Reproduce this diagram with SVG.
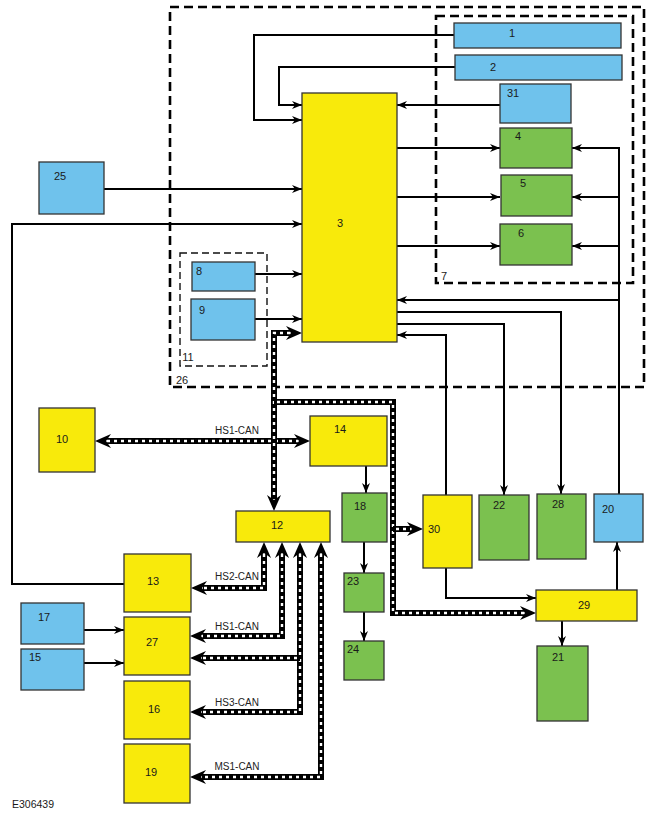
<svg xmlns="http://www.w3.org/2000/svg" width="650" height="819" viewBox="0 0 650 819">
<style>
.b{fill:#6FC2EC;stroke:#333;stroke-width:1.3}
.g{fill:#7BC14F;stroke:#333;stroke-width:1.3}
.y{fill:#F8EA0B;stroke:#333;stroke-width:1.3}
text{font-family:"Liberation Sans",Arial,sans-serif;font-size:11px;fill:#1a1a1a;text-anchor:middle}
.cl{font-size:10px;fill:#222}
.w{fill:none;stroke:#000;stroke-width:2}
.cb{fill:none;stroke:#000;stroke-width:6}
.cw{fill:none;stroke:#fff;stroke-width:2.4;stroke-dasharray:3 4}
.d1{fill:none;stroke:#000;stroke-width:2.6;stroke-dasharray:9 5}
.d2{fill:none;stroke:#111;stroke-width:1.4;stroke-dasharray:7 4}
</style>
<defs>
<marker id="a" markerUnits="userSpaceOnUse" markerWidth="12" markerHeight="10" refX="10" refY="4" orient="auto"><path d="M0,0 L10,4 L0,8 L3,4 z" fill="#000"/></marker>
<marker id="c" markerUnits="userSpaceOnUse" markerWidth="18" markerHeight="16" refX="4" refY="7" orient="auto-start-reverse"><path d="M0,0 L16,7 L0,14 L5,7 z" fill="#000"/></marker>
</defs>
<g id="frames">
<rect class="d1" x="170" y="7" width="474" height="380"/>
<rect class="d1" x="436" y="16" width="197" height="267"/>
<rect class="d2" x="180" y="253" width="87" height="113"/>
<text x="444" y="280">7</text>
<text x="182" y="384">26</text>
<text x="188" y="361">11</text>
</g>
<g id="connectors">
<path class="w" marker-end="url(#a)" d="M454,35 L254,35 L254,120 L302,120"/>
<path class="w" marker-end="url(#a)" d="M455,67 L279,67 L279,105 L302,105"/>
<path class="w" marker-end="url(#a)" d="M500,105 L397,105"/>
<path class="w" marker-end="url(#a)" d="M397,148 L500,148"/>
<path class="w" marker-end="url(#a)" d="M397,197 L500,197"/>
<path class="w" marker-end="url(#a)" d="M397,246 L500,246"/>
<path class="w" marker-end="url(#a)" d="M619,494 L619,148 L572,148"/>
<path class="w" marker-end="url(#a)" d="M619,197 L572,197"/>
<path class="w" marker-end="url(#a)" d="M619,246 L572,246"/>
<path class="w" marker-end="url(#a)" d="M619,300 L397,300"/>
<path class="w" marker-end="url(#a)" d="M104,189 L302,189"/>
<path class="w" marker-end="url(#a)" d="M124,584 L12,584 L12,224 L302,224"/>
<path class="w" marker-end="url(#a)" d="M255,274 L302,274"/>
<path class="w" marker-end="url(#a)" d="M255,319 L302,319"/>
<path class="w" marker-end="url(#a)" d="M397,312 L561,312 L561,494"/>
<path class="w" marker-end="url(#a)" d="M397,324 L504,324 L504,495"/>
<path class="w" marker-end="url(#a)" d="M446,495 L446,335 L397,335"/>
<path class="w" marker-end="url(#a)" d="M446,568 L446,598 L536,598"/>
<path class="w" marker-end="url(#a)" d="M366,466 L366,493"/>
<path class="w" marker-end="url(#a)" d="M364,542 L364,573"/>
<path class="w" marker-end="url(#a)" d="M364,612 L364,641"/>
<path class="w" marker-end="url(#a)" d="M562,621 L562,646"/>
<path class="w" marker-end="url(#a)" d="M617,590 L617,542"/>
<path class="w" marker-end="url(#a)" d="M84,630 L124,630"/>
<path class="w" marker-end="url(#a)" d="M84,663 L124,663"/>
<path class="cb" marker-start="url(#c)" marker-end="url(#c)" d="M107,441 L298,441"/>
<path class="cw" d="M107,441 L298,441"/>
<path class="cb" marker-start="url(#c)" marker-end="url(#c)" d="M290,333 L274,333 L274,499"/>
<path class="cw" d="M290,333 L274,333 L274,499"/>
<path class="cb" marker-end="url(#c)" d="M274,402 L393,402 L393,613 L524,613"/>
<path class="cw" d="M277,402 L393,402 L393,613 L524,613"/>
<path class="cb" marker-end="url(#c)" d="M393,529 L411,529"/>
<path class="cw" d="M396,529 L411,529"/>
<path class="cb" marker-start="url(#c)" marker-end="url(#c)" d="M264,554 L264,588 L203,588"/>
<path class="cw" d="M264,554 L264,588 L203,588"/>
<path class="cb" marker-start="url(#c)" marker-end="url(#c)" d="M282,554 L282,636 L202,636"/>
<path class="cw" d="M282,554 L282,636 L202,636"/>
<path class="cb" marker-start="url(#c)" marker-end="url(#c)" d="M300,554 L300,712 L202,712"/>
<path class="cw" d="M300,554 L300,712 L202,712"/>
<path class="cb" marker-end="url(#c)" d="M300,658 L202,658"/>
<path class="cw" d="M297,658 L202,658"/>
<path class="cb" marker-start="url(#c)" marker-end="url(#c)" d="M321,554 L321,777 L202,777"/>
<path class="cw" d="M321,554 L321,777 L202,777"/>
<text class="cl" x="237" y="434">HS1-CAN</text>
<text class="cl" x="237" y="580">HS2-CAN</text>
<text class="cl" x="237" y="630">HS1-CAN</text>
<text class="cl" x="237" y="706">HS3-CAN</text>
<text class="cl" x="237" y="770">MS1-CAN</text>
</g>
<g id="n1"><rect class="b" x="454" y="23" width="167" height="25"/><text x="512" y="37">1</text></g>
<g id="n2"><rect class="b" x="455" y="55" width="167" height="25"/><text x="493" y="71">2</text></g>
<g id="n31"><rect class="b" x="500" y="84" width="71" height="39"/><text x="513" y="97">31</text></g>
<g id="n3"><rect class="y" x="302" y="93" width="95" height="249"/><text x="340" y="227">3</text></g>
<g id="n4"><rect class="g" x="500" y="128" width="72" height="40"/><text x="518" y="140">4</text></g>
<g id="n5"><rect class="g" x="501" y="175" width="71" height="41"/><text x="523" y="187">5</text></g>
<g id="n6"><rect class="g" x="500" y="224" width="72" height="41"/><text x="521" y="237">6</text></g>
<g id="n25"><rect class="b" x="39" y="162" width="65" height="52"/><text x="60" y="180">25</text></g>
<g id="n8"><rect class="b" x="192" y="262" width="63" height="29"/><text x="199" y="275">8</text></g>
<g id="n9"><rect class="b" x="191" y="299" width="64" height="41"/><text x="202" y="314">9</text></g>
<g id="n10"><rect class="y" x="39" y="408" width="56" height="64"/><text x="62" y="443">10</text></g>
<g id="n14"><rect class="y" x="310" y="416" width="77" height="50"/><text x="340" y="433">14</text></g>
<g id="n12"><rect class="y" x="236" y="511" width="94" height="31"/><text x="277" y="529">12</text></g>
<g id="n18"><rect class="g" x="342" y="493" width="45" height="49"/><text x="360" y="510">18</text></g>
<g id="n30"><rect class="y" x="423" y="495" width="49" height="73"/><text x="434" y="533">30</text></g>
<g id="n22"><rect class="g" x="479" y="495" width="50" height="65"/><text x="499" y="509">22</text></g>
<g id="n28"><rect class="g" x="537" y="494" width="49" height="65"/><text x="558" y="508">28</text></g>
<g id="n20"><rect class="b" x="594" y="494" width="49" height="48"/><text x="608" y="513">20</text></g>
<g id="n23"><rect class="g" x="344" y="573" width="40" height="39"/><text x="353" y="585">23</text></g>
<g id="n24"><rect class="g" x="344" y="641" width="40" height="39"/><text x="353" y="653">24</text></g>
<g id="n29"><rect class="y" x="536" y="590" width="101" height="31"/><text x="584" y="609">29</text></g>
<g id="n21"><rect class="g" x="537" y="646" width="51" height="75"/><text x="558" y="661">21</text></g>
<g id="n13"><rect class="y" x="124" y="554" width="67" height="58"/><text x="153" y="585">13</text></g>
<g id="n17"><rect class="b" x="21" y="603" width="63" height="41"/><text x="44" y="621">17</text></g>
<g id="n27"><rect class="y" x="124" y="617" width="66" height="58"/><text x="152" y="646">27</text></g>
<g id="n15"><rect class="b" x="21" y="649" width="63" height="41"/><text x="35" y="661">15</text></g>
<g id="n16"><rect class="y" x="124" y="681" width="66" height="58"/><text x="154" y="713">16</text></g>
<g id="n19"><rect class="y" x="124" y="744" width="66" height="59"/><text x="151" y="776">19</text></g>
<text x="12" y="808" style="text-anchor:start;font-size:10.5px">E306439</text>
</svg>
